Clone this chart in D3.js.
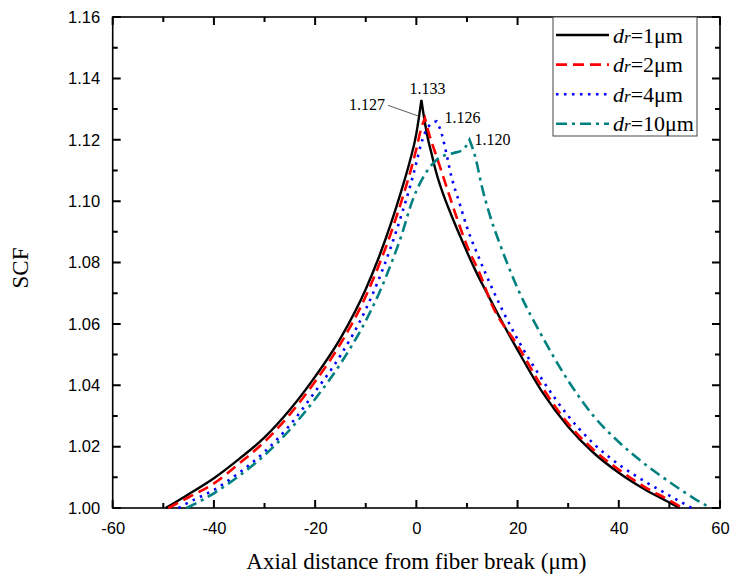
<!DOCTYPE html>
<html>
<head>
<meta charset="utf-8">
<script src="https://cdn.jsdelivr.net/npm/d3@7"></script>
<style>
  html, body { margin: 0; padding: 0; background: #fff; }
  svg { display: block; }
</style>
</head>
<body>
<svg id="chart" width="731" height="580"></svg>
<script>
// Stress concentration factor along the fiber for four interphase thicknesses
const thickness = ["1", "2", "4", "10"];
const colors = ["#000000", "#ff0000", "#0000ff", "#008080"];
const dashes = [null, "11,6", "2.5,5.5", "11,5,3,5"];

const dist1 = [-49.5, -45, -40, -35, -30, -25, -20, -15, -10, -7.5, -5, -3, -1.3, 0, 0.5, 1, 1.5, 2.2, 3, 3.9, 5.25, 6.9, 9.2, 11.5, 13.8, 16.5, 20, 25, 30, 35, 40, 45, 50, 52];
const scf1 = [1.000, 1.0045, 1.0097, 1.016, 1.023, 1.032, 1.0428, 1.0553, 1.0713, 1.0813, 1.0928, 1.1032, 1.1129, 1.122, 1.1272, 1.133, 1.1275, 1.121, 1.1155, 1.1095, 1.1025, 1.0955, 1.0865, 1.078, 1.0705, 1.062, 1.0515, 1.0375, 1.0265, 1.018, 1.0115, 1.0062, 1.0018, 1.000];

const dist2 = [-49, -45, -40, -35, -30, -25, -20, -15, -10, -7.5, -5, -3, -1, 0, 1, 1.7, 2.5, 4, 6, 8, 10, 12.5, 15, 20, 25, 30, 35, 40, 45, 50, 52.6];
const scf2 = [1.000, 1.0035, 1.008, 1.0145, 1.0216, 1.0305, 1.0412, 1.0535, 1.069, 1.0787, 1.0897, 1.0997, 1.1107, 1.117, 1.124, 1.127, 1.122, 1.1145, 1.1045, 1.0945, 1.0855, 1.0765, 1.066, 1.053, 1.039, 1.0275, 1.019, 1.0125, 1.007, 1.0025, 1.000];

const dist4 = [-47, -45, -40, -35, -30, -25, -20, -15, -10, -7.5, -5, -3, -1, 0, 1, 2.5, 4, 5, 5.6, 7, 8.5, 10, 12.5, 15, 17, 20, 25, 30, 35, 40, 45, 49, 54.4];
const scf4 = [1.000, 1.0018, 1.0059, 1.0115, 1.0183, 1.027, 1.0379, 1.0497, 1.0647, 1.0742, 1.0852, 1.0952, 1.1062, 1.1125, 1.119, 1.1245, 1.126, 1.122, 1.118, 1.1075, 1.0995, 1.0915, 1.081, 1.0715, 1.0645, 1.055, 1.0415, 1.030, 1.021, 1.0142, 1.0088, 1.005, 1.000];

const dist10 = [-45.4, -40, -35, -30, -25, -20, -15, -10, -7.5, -5, -3, -0.7, 2, 4.6, 7.2, 9.2, 10.5, 11.8, 12.8, 14.5, 16.4, 20, 25, 30, 35, 40, 45, 50, 55, 58.2];
const scf10 = [1.000, 1.0048, 1.0105, 1.0172, 1.0255, 1.0355, 1.047, 1.061, 1.0695, 1.0795, 1.0885, 1.1005, 1.1095, 1.1142, 1.1156, 1.1167, 1.120, 1.1134, 1.1058, 1.0955, 1.0865, 1.0716, 1.0555, 1.0415, 1.030, 1.0215, 1.0145, 1.0085, 1.003, 1.000];

const distances = [dist1, dist2, dist4, dist10];
const scfValues = [scf1, scf2, scf4, scf10];

// Peak callouts
const peakLabels = ["1.133", "1.127", "1.126", "1.120"];

const xTicks = [-60, -40, -20, 0, 20, 40, 60];
const yTicks = [1.00, 1.02, 1.04, 1.06, 1.08, 1.10, 1.12, 1.14, 1.16];

const svg = d3.select("#chart");
const plotLeft = 112.7, plotRight = 720, plotTop = 17, plotBottom = 508;

const x = d3.scaleLinear().domain([-60, 60]).range([plotLeft, plotRight]);
const y = d3.scaleLinear().domain([1.00, 1.16]).range([plotBottom, plotTop]);

const serif = "'Liberation Serif', 'Times New Roman', serif";
const sans = "'Liberation Sans', Arial, sans-serif";

// Minor ticks halfway between the labelled ones
const xMinor = d3.range(-50, 60, 20);
const yMinor = d3.range(1.01, 1.16, 0.02);

const labelStyle = g => {
  g.selectAll(".domain").remove();
  g.selectAll(".tick line").remove();
  g.selectAll("text").attr("font-family", sans).attr("font-size", 16.5).attr("fill", "#000");
};

// Tick labels
svg.append("g").attr("transform", `translate(0,${plotBottom})`)
  .call(d3.axisBottom(x).tickValues(xTicks).tickSizeInner(7).tickSizeOuter(0).tickPadding(7).tickFormat(d => String(d)))
  .call(labelStyle);
svg.append("g").attr("transform", `translate(${plotLeft},0)`)
  .call(d3.axisLeft(y).tickValues(yTicks).tickSizeInner(7).tickSizeOuter(0).tickPadding(5.5).tickFormat(d3.format(".2f")))
  .call(labelStyle);

// Inward tick marks on all four sides, drawn as one path
const tickPath = d3.path();
[[xTicks, 8], [xMinor, 5]].forEach(([vals, len]) => {
  vals.forEach(v => {
    tickPath.moveTo(x(v), plotBottom); tickPath.lineTo(x(v), plotBottom - len);
    tickPath.moveTo(x(v), plotTop); tickPath.lineTo(x(v), plotTop + len);
  });
});
[[yTicks, 8], [yMinor, 5]].forEach(([vals, len]) => {
  vals.forEach(v => {
    tickPath.moveTo(plotLeft, y(v)); tickPath.lineTo(plotLeft + len, y(v));
    tickPath.moveTo(plotRight, y(v)); tickPath.lineTo(plotRight - len, y(v));
  });
});
svg.append("path")
  .attr("d", tickPath.toString())
  .attr("fill", "none").attr("stroke", "#000").attr("stroke-width", 2);

// Plot frame
svg.append("rect")
  .attr("x", plotLeft).attr("y", plotTop)
  .attr("width", plotRight - plotLeft).attr("height", plotBottom - plotTop)
  .attr("fill", "none").attr("stroke", "#000").attr("stroke-width", 1.6);

// Curves: each side of the peak is smoothed separately so the cusp stays sharp
const smooth = d3.line().x(d => x(d[0])).y(d => y(d[1])).curve(d3.curveMonotoneX);
function peakIndex(i) {
  const s = scfValues[i];
  return s.indexOf(d3.max(s));
}
thickness.forEach((t, i) => {
  const pts = distances[i].map((d, j) => [d, scfValues[i][j]]);
  const k = peakIndex(i);
  const rise = smooth(pts.slice(0, k + 1));
  const fall = smooth(pts.slice(k)).replace(/^M/, "L");
  svg.append("path")
    .attr("d", rise + fall)
    .attr("fill", "none")
    .attr("stroke", colors[i])
    .attr("stroke-width", i === 0 ? 2.4 : 2.6)
    .attr("stroke-dasharray", dashes[i])
    .attr("stroke-linejoin", "miter");
});

// Peak annotations
function peakOf(i) {
  const k = peakIndex(i);
  return [distances[i][k], scfValues[i][k]];
}
const p1 = peakOf(0), p2 = peakOf(1), p4 = peakOf(2), p10 = peakOf(3);
const annot = svg.append("g").attr("font-family", serif).attr("font-size", 16).attr("fill", "#000");
annot.append("text").attr("x", x(p1[0]) + 6).attr("y", y(p1[1]) - 6).attr("text-anchor", "middle").text(peakLabels[0]);
annot.append("text").attr("x", x(p2[0]) - 40).attr("y", y(p2[1]) - 8).attr("text-anchor", "end").text(peakLabels[1]);
svg.append("line")
  .attr("x1", x(p2[0]) - 37).attr("y1", y(p2[1]) - 13)
  .attr("x2", x(p2[0]) - 6).attr("y2", y(p2[1]) - 2)
  .attr("stroke", "#333").attr("stroke-width", 0.8);
annot.append("text").attr("x", x(p4[0]) + 8).attr("y", y(p4[1]) + 2).text(peakLabels[2]);
annot.append("text").attr("x", x(p10[0]) + 5).attr("y", y(p10[1]) + 5).text(peakLabels[3]);

// Axis titles
svg.append("text")
  .attr("x", (plotLeft + plotRight) / 2).attr("y", 569)
  .attr("text-anchor", "middle")
  .attr("font-family", serif).attr("font-size", 23)
  .text("Axial distance from fiber break (μm)");
svg.append("text")
  .attr("transform", "translate(28,268) rotate(-90)")
  .attr("text-anchor", "middle")
  .attr("font-family", serif).attr("font-size", 23)
  .text("SCF");

// Legend
const lg = svg.append("g");
lg.append("rect")
  .attr("x", 553).attr("y", plotTop).attr("width", 144).attr("height", 119)
  .attr("fill", "#fff").attr("stroke", "#444").attr("stroke-width", 1);
thickness.forEach((t, i) => {
  const ly = 35 + i * 29.6;
  lg.append("line")
    .attr("x1", 556).attr("x2", 609).attr("y1", ly).attr("y2", ly)
    .attr("stroke", colors[i]).attr("stroke-width", 2.6)
    .attr("stroke-dasharray", dashes[i]);
  const tx = lg.append("text")
    .attr("x", 613).attr("y", ly + 7.5)
    .attr("font-family", serif).attr("font-size", 22);
  tx.append("tspan").attr("font-style", "italic").text("d");
  tx.append("tspan").attr("font-style", "italic").attr("font-size", 17).text("r");
  tx.append("tspan").text("=" + t + "μm");
});
</script>
</body>
</html>
